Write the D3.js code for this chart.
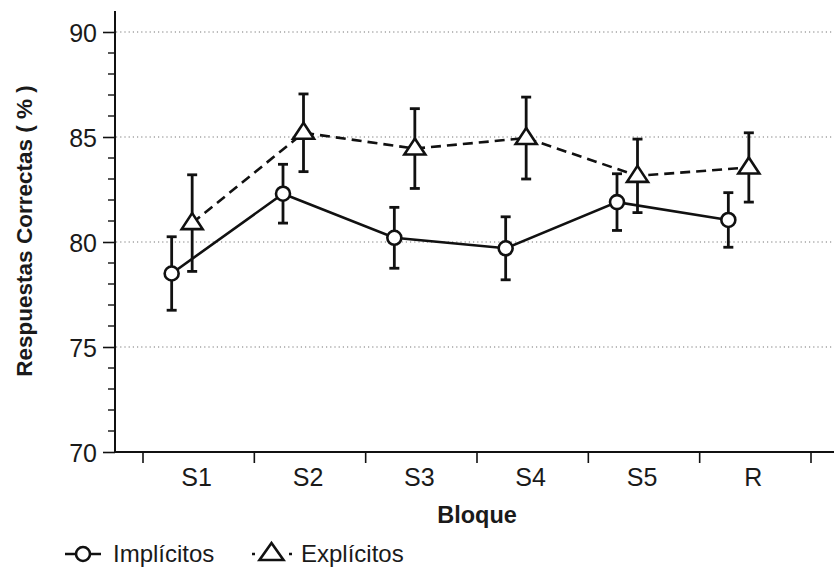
<!DOCTYPE html>
<html>
<head>
<meta charset="utf-8">
<script src="https://cdn.jsdelivr.net/npm/d3@7"></script>
<style>
    body { margin: 0; background: #fff; }
    svg { display: block; }
    text { font-family: "Liberation Sans", Arial, Helvetica, sans-serif; fill: #1a1a1a; }
</style>
</head>
<body>
<div id="chart"></div>
<script>
// datos
var bloques = ["S1", "S2", "S3", "S4", "S5", "R"];
var implicitos = [78.5, 82.3, 80.2, 79.7, 81.9, 81.05];
var implicitosErr = [1.75, 1.4, 1.45, 1.5, 1.35, 1.3];
var explicitos = [80.9, 85.2, 84.45, 84.95, 83.15, 83.55];
var explicitosErr = [2.3, 1.85, 1.9, 1.95, 1.75, 1.65];
var yMajor = [70, 75, 80, 85, 90];
var yGrid = [75, 80, 85, 90];

var W = 834, H = 570;
var svg = d3.select("#chart").append("svg")
    .attr("width", W)
    .attr("height", H);

var x = d3.scaleBand().domain(bloques).range([143, 811]).padding(0);
var y = d3.scaleLinear().domain([70, 91]).range([452, 11]);
var offImp = -27, offExp = -6.5;

// líneas de referencia punteadas
svg.append("g").selectAll("line")
    .data(yGrid)
    .enter()
    .append("line")
    .attr("x1", 116).attr("x2", W)
    .attr("y1", function(d) { return y(d) })
    .attr("y2", function(d) { return y(d) })
    .attr("stroke", "#777")
    .attr("stroke-width", 1.2)
    .attr("stroke-dasharray", "1.2,3");

// eje y
var yAxis = d3.axisLeft(y).tickValues(yMajor).tickSize(12).tickPadding(6).tickFormat(d3.format("d"));
var gy = svg.append("g").attr("transform", "translate(115,0)").call(yAxis);
gy.select(".domain").remove();
gy.selectAll(".tick line").attr("stroke", "#111").attr("stroke-width", 1.6);
gy.selectAll(".tick text").style("font-size", "25px").attr("dy", "0.36em");
svg.append("g").selectAll("line")
    .data(d3.range(71, 91).filter(function(d) { return d % 5 != 0 }))
    .enter()
    .append("line")
    .attr("x1", 108).attr("x2", 115)
    .attr("y1", function(d) { return y(d) })
    .attr("y2", function(d) { return y(d) })
    .attr("stroke", "#111").attr("stroke-width", 1.4);
svg.append("line")
    .attr("x1", 115).attr("x2", 115)
    .attr("y1", y(91)).attr("y2", y(70) + 1)
    .attr("stroke", "#111").attr("stroke-width", 2);

// eje x: marcas entre bloques
var bordes = bloques.map(function(d) { return x(d) }).concat([x.range()[1]]);
svg.append("line")
    .attr("x1", 114).attr("x2", W)
    .attr("y1", y(70)).attr("y2", y(70))
    .attr("stroke", "#111").attr("stroke-width", 2);
svg.append("g").selectAll("line")
    .data(bordes)
    .enter()
    .append("line")
    .attr("x1", function(d) { return d }).attr("x2", function(d) { return d })
    .attr("y1", y(70)).attr("y2", y(70) + 11)
    .attr("stroke", "#111").attr("stroke-width", 1.6);
svg.append("g").selectAll("text")
    .data(bloques)
    .enter()
    .append("text")
    .attr("x", function(d) { return x(d) + x.bandwidth() / 2 - 2 })
    .attr("y", 486)
    .attr("text-anchor", "middle")
    .style("font-size", "25px")
    .text(function(d) { return d });

// títulos de ejes
svg.append("text")
    .attr("transform", "translate(32,231) rotate(-90)")
    .attr("text-anchor", "middle")
    .style("font-size", "22.5px")
    .style("font-weight", "bold")
    .text("Respuestas Correctas ( % )");
svg.append("text")
    .attr("x", 477).attr("y", 523)
    .attr("text-anchor", "middle")
    .style("font-size", "23.5px")
    .style("font-weight", "bold")
    .text("Bloque");

// dibuja una serie con barras de error
function drawSeries(vals, errs, off, dashed, marker) {
    var pts = vals.map(function(v, i) {
        return { cx: x(bloques[i]) + x.bandwidth() / 2 + off, v: v, e: errs[i] };
    });
    var g = svg.append("g");
    g.append("path")
        .datum(pts)
        .attr("fill", "none")
        .attr("stroke", "#111")
        .attr("stroke-width", 2.6)
        .attr("stroke-dasharray", dashed ? "10,6" : null)
        .attr("d", d3.line().x(function(d) { return d.cx }).y(function(d) { return y(d.v) }));
    var eb = g.selectAll(".eb").data(pts).enter().append("g");
    eb.append("line")
        .attr("x1", function(d) { return d.cx }).attr("x2", function(d) { return d.cx })
        .attr("y1", function(d) { return y(d.v + d.e) })
        .attr("y2", function(d) { return y(d.v - d.e) });
    eb.append("line")
        .attr("x1", function(d) { return d.cx - 5 }).attr("x2", function(d) { return d.cx + 5 })
        .attr("y1", function(d) { return y(d.v + d.e) })
        .attr("y2", function(d) { return y(d.v + d.e) });
    eb.append("line")
        .attr("x1", function(d) { return d.cx - 5 }).attr("x2", function(d) { return d.cx + 5 })
        .attr("y1", function(d) { return y(d.v - d.e) })
        .attr("y2", function(d) { return y(d.v - d.e) });
    eb.selectAll("line").attr("stroke", "#111").attr("stroke-width", 2.8);
    g.selectAll(".mk").data(pts).enter()
        .append("path")
        .attr("transform", function(d) { return "translate(" + d.cx + "," + y(d.v) + ")" })
        .attr("d", marker)
        .attr("fill", "#fff")
        .attr("stroke", "#111")
        .attr("stroke-width", 2.6);
}

var circulo = d3.symbol().type(d3.symbolCircle).size(Math.PI * 7 * 7)();
var triangulo = "M0,-10L10.5,6L-10.5,6Z";
drawSeries(implicitos, implicitosErr, offImp, false, circulo);
drawSeries(explicitos, explicitosErr, offExp, true, triangulo);

// leyenda
var leg = svg.append("g");
leg.append("line").attr("x1", 65).attr("x2", 101).attr("y1", 554).attr("y2", 554)
    .attr("stroke", "#111").attr("stroke-width", 2.6);
leg.append("path").attr("transform", "translate(83,554)").attr("d", circulo)
    .attr("fill", "#fff").attr("stroke", "#111").attr("stroke-width", 2.6);
leg.append("text").attr("x", 113).attr("y", 562).style("font-size", "24px").text("Implícitos");
leg.append("line").attr("x1", 252).attr("x2", 292).attr("y1", 554).attr("y2", 554)
    .attr("stroke", "#111").attr("stroke-width", 2.6).attr("stroke-dasharray", "3,34");
leg.append("path").attr("transform", "translate(271.5,553)").attr("d", "M0,-10L12,7L-12,7Z")
    .attr("fill", "#fff").attr("stroke", "#111").attr("stroke-width", 2.6);
leg.append("text").attr("x", 301).attr("y", 562).style("font-size", "24px").text("Explícitos");
</script>
</body>
</html>
